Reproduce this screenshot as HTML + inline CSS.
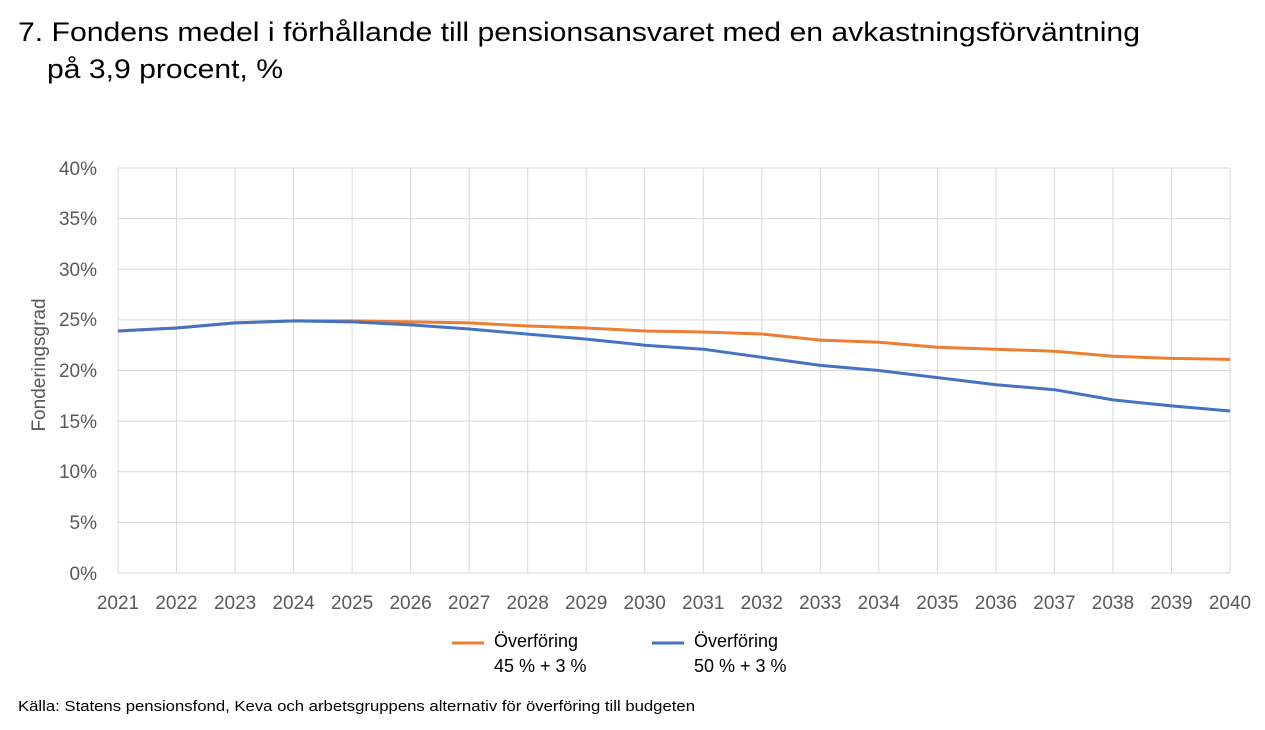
<!DOCTYPE html>
<html><head><meta charset="utf-8"><style>
body{margin:0;background:#fff;width:1265px;height:725px;overflow:hidden;font-family:"Liberation Sans",sans-serif;}
</style></head><body>
<svg width="1265" height="725" xmlns="http://www.w3.org/2000/svg" font-family="Liberation Sans, sans-serif">
<text x="18" y="41" font-size="27" fill="#000" textLength="1122" lengthAdjust="spacingAndGlyphs">7. Fondens medel i förhållande till pensionsansvaret med en avkastningsförväntning</text>
<text x="47" y="78" font-size="27" fill="#000" textLength="236" lengthAdjust="spacingAndGlyphs">på 3,9 procent, %</text>
<g stroke="#d9d9d9" stroke-width="1">
<line x1="118" y1="168" x2="1230" y2="168"/><line x1="118" y1="218.6" x2="1230" y2="218.6"/>
<line x1="118" y1="269.3" x2="1230" y2="269.3"/><line x1="118" y1="319.9" x2="1230" y2="319.9"/>
<line x1="118" y1="370.5" x2="1230" y2="370.5"/><line x1="118" y1="421.1" x2="1230" y2="421.1"/>
<line x1="118" y1="471.8" x2="1230" y2="471.8"/><line x1="118" y1="522.4" x2="1230" y2="522.4"/>
<line x1="118" y1="573" x2="1230" y2="573"/>
<line x1="118" y1="168" x2="118" y2="573"/><line x1="176.5" y1="168" x2="176.5" y2="573"/><line x1="235.1" y1="168" x2="235.1" y2="573"/><line x1="293.6" y1="168" x2="293.6" y2="573"/><line x1="352.1" y1="168" x2="352.1" y2="573"/><line x1="410.6" y1="168" x2="410.6" y2="573"/><line x1="469.2" y1="168" x2="469.2" y2="573"/><line x1="527.7" y1="168" x2="527.7" y2="573"/><line x1="586.2" y1="168" x2="586.2" y2="573"/><line x1="644.7" y1="168" x2="644.7" y2="573"/><line x1="703.3" y1="168" x2="703.3" y2="573"/><line x1="761.8" y1="168" x2="761.8" y2="573"/><line x1="820.3" y1="168" x2="820.3" y2="573"/><line x1="878.8" y1="168" x2="878.8" y2="573"/><line x1="937.4" y1="168" x2="937.4" y2="573"/><line x1="995.9" y1="168" x2="995.9" y2="573"/><line x1="1054.4" y1="168" x2="1054.4" y2="573"/><line x1="1112.9" y1="168" x2="1112.9" y2="573"/><line x1="1171.5" y1="168" x2="1171.5" y2="573"/><line x1="1230" y1="168" x2="1230" y2="573"/>
</g>
<g font-size="19" fill="#595959" text-anchor="end">
<text x="97" y="175">40%</text><text x="97" y="225">35%</text><text x="97" y="276">30%</text><text x="97" y="326">25%</text><text x="97" y="377">20%</text><text x="97" y="428">15%</text><text x="97" y="478">10%</text><text x="97" y="529">5%</text><text x="97" y="580">0%</text>
</g>
<g font-size="19" fill="#595959" text-anchor="middle">
<text x="118" y="609">2021</text><text x="176.5" y="609">2022</text><text x="235.1" y="609">2023</text><text x="293.6" y="609">2024</text><text x="352.1" y="609">2025</text><text x="410.6" y="609">2026</text><text x="469.2" y="609">2027</text><text x="527.7" y="609">2028</text><text x="586.2" y="609">2029</text><text x="644.7" y="609">2030</text><text x="703.3" y="609">2031</text><text x="761.8" y="609">2032</text><text x="820.3" y="609">2033</text><text x="878.8" y="609">2034</text><text x="937.4" y="609">2035</text><text x="995.9" y="609">2036</text><text x="1054.4" y="609">2037</text><text x="1112.9" y="609">2038</text><text x="1171.5" y="609">2039</text><text x="1230" y="609">2040</text>
</g>
<text transform="translate(45,365) rotate(-90)" font-size="19" fill="#595959" text-anchor="middle">Fonderingsgrad</text>
<polyline fill="none" stroke="#ed7d31" stroke-width="3" stroke-linejoin="round" points="118,331 176.5,328 235.1,322.9 293.6,320.9 352.1,320.9 410.6,321.9 469.2,322.9 527.7,326 586.2,328 644.7,331 703.3,332 761.8,334 820.3,340.1 878.8,342.2 937.4,347.2 995.9,349.2 1054.4,351.3 1112.9,356.3 1171.5,358.4 1230,359.4"/>
<polyline fill="none" stroke="#4472c4" stroke-width="3" stroke-linejoin="round" points="118,331 176.5,328 235.1,322.9 293.6,320.9 352.1,321.9 410.6,324.9 469.2,329 527.7,334.1 586.2,339.1 644.7,345.2 703.3,349.2 761.8,357.3 820.3,365.4 878.8,370.5 937.4,377.6 995.9,384.7 1054.4,389.7 1112.9,399.9 1171.5,405.9 1230,411"/>
<line x1="452" y1="643" x2="484" y2="643" stroke="#ed7d31" stroke-width="3"/>
<line x1="652" y1="643" x2="684" y2="643" stroke="#4472c4" stroke-width="3"/>
<g font-size="18" fill="#000">
<text x="494" y="647">Överföring</text><text x="494" y="672">45 % + 3 %</text>
<text x="694" y="647">Överföring</text><text x="694" y="672">50 % + 3 %</text>
</g>
<text x="18" y="711" font-size="15" fill="#000" textLength="677" lengthAdjust="spacingAndGlyphs">Källa: Statens pensionsfond, Keva och arbetsgruppens alternativ för överföring till budgeten</text>
</svg>
</body></html>
